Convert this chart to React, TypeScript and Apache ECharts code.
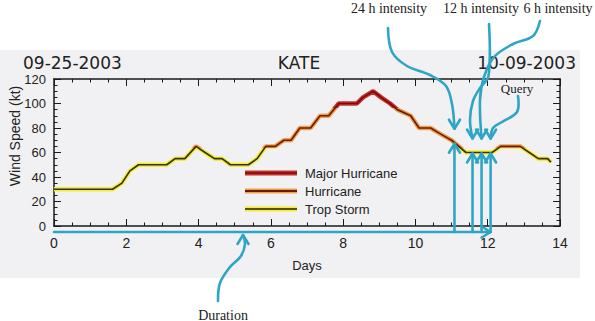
import React, { useEffect, useRef } from "react";
import * as echarts from "echarts";

// ---- data ----
const days = [0, 1.62, 1.88, 2.1, 2.34, 3.12, 3.35, 3.62, 3.93, 4.18, 4.44, 4.65, 4.88, 5.38, 5.62, 5.86, 6.12, 6.36, 6.56, 6.8, 7.1, 7.36, 7.6, 7.88, 8.38, 8.55, 8.83, 9.05, 9.3, 9.5, 9.87, 10.1, 10.42, 10.7, 11.0, 11.4, 12.12, 12.36, 12.9, 13.15, 13.4, 13.66, 13.75];
const wind = [30, 30, 35, 45, 50, 50, 55, 55, 65, 60, 55, 55, 50, 50, 55, 65, 65, 70, 70, 80, 80, 90, 90, 100, 100, 105, 110, 105, 100, 95, 90, 80, 80, 75, 70, 60, 60, 65, 65, 60, 55, 55, 52];

const startDate = "09-25-2003";
const stormName = "KATE";
const endDate = "10-09-2003";
const xAxisName = "Days";
const yAxisName = "Wind Speed (kt)";
const legendNames = ["Major Hurricane", "Hurricane", "Trop Storm"];
const hurricaneThreshold = 64;
const majorThreshold = 96;
const queryDay = 12.08;
const lookbackDays = [1, 0.5, 0.25, 0];
const annotationLabels = ["24 h intensity", "12 h intensity", "6 h intensity", "Query"];
const durationLabel = "Duration";

// ---- styles ----
const halo = { major: "#c4302a", hur: "#eea048", trop: "#f4ec3c" };
const core = { major: "#7e0a0a", hur: "#6a1c0a", trop: "#34320a" };
const arrowColor = "#2fa5c6";
const frameColor = "#1a1a1a";
const sansFont = "'Liberation Sans', 'DejaVu Sans', sans-serif";
const serifFont = "'Liberation Serif', 'DejaVu Serif', serif";

const GRID = { left: 54, right: 35, top: 79, bottom: 95 };

function windAt(d: number): number {
  for (let i = 0; i < days.length - 1; i++) {
    if (d >= days[i] && d <= days[i + 1]) {
      const t = (d - days[i]) / (days[i + 1] - days[i]);
      return wind[i] + t * (wind[i + 1] - wind[i]);
    }
  }
  return wind[wind.length - 1];
}

const axisCommon = {
  splitLine: { show: false },
  minorSplitLine: { show: false },
  axisLine: { show: true, onZero: false, lineStyle: { color: frameColor, width: 1.5 } },
  axisTick: { show: true, inside: true, length: 7, lineStyle: { color: frameColor, width: 1 } },
  minorTick: { show: true, splitNumber: 4, length: 3.5, lineStyle: { color: frameColor, width: 1 } },
};

export default function App() {
  const ref = useRef<HTMLDivElement>(null);
  useEffect(() => {
    if (!ref.current) return;
    const chart = echarts.init(ref.current, null, { renderer: "svg" });
    const pts = days.map((d, i) => [d, wind[i]]);
    const pieces = (c: { major: string; hur: string; trop: string }) => [
      { lt: hurricaneThreshold, color: c.trop },
      { gte: hurricaneThreshold, lt: majorThreshold, color: c.hur },
      { gte: majorThreshold, color: c.major },
    ];
    const option: any = {
      animation: false,
      backgroundColor: "#ffffff",
      grid: { ...GRID, containLabel: false, outerBoundsMode: "none" },
      xAxis: [
        {
          type: "value", min: 0, max: 14, interval: 2, position: "bottom",
          ...axisCommon,
          axisLabel: { color: "#222", fontFamily: sansFont, fontSize: 14, margin: 10 },
          name: xAxisName, nameLocation: "middle", nameGap: 33,
          nameTextStyle: { color: "#222", fontFamily: sansFont, fontSize: 13 },
        },
        {
          type: "value", min: 0, max: 14, interval: 2, position: "top",
          ...axisCommon,
          axisLabel: { show: false },
        },
      ],
      yAxis: [
        {
          type: "value", min: 0, max: 120, interval: 20, position: "left",
          ...axisCommon,
          axisLabel: { color: "#222", fontFamily: sansFont, fontSize: 13, margin: 8 },
        },
        {
          type: "value", min: 0, max: 120, interval: 20, position: "right",
          ...axisCommon,
          axisLabel: { show: false },
        },
      ],
      visualMap: [
        { type: "piecewise", show: false, dimension: 1, seriesIndex: 0, pieces: pieces(halo) },
        { type: "piecewise", show: false, dimension: 1, seriesIndex: 1, pieces: pieces(core) },
      ],
      series: [
        { type: "line", data: pts, symbol: "none", lineStyle: { width: 4.5 }, z: 2, silent: true },
        { type: "line", data: pts, symbol: "none", lineStyle: { width: 1.7 }, z: 3, silent: true },
      ],
    };
    chart.setOption(option);

    const px = (d: number, v: number) => chart.convertToPixel({ gridIndex: 0 }, [d, v]) as number[];
    const bottomY = 321 - GRID.bottom;
    const arrowY = bottomY + 6;
    const g: any[] = [];

    // background panel
    g.push({ type: "rect", z: -100, shape: { x: 0, y: 50, width: 580, height: 228 }, style: { fill: "#f1f1f3" }, silent: true });

    const txt = (text: string, x: number, y: number, font: string, align = "center", extra: any = {}) => ({
      type: "text", x, y, z: 50, ...extra,
      style: { text, font, fill: "#222", align, verticalAlign: "middle", textAlign: align, textVerticalAlign: "middle" },
    });

    // titles
    const titleFont = "17px 'DejaVu Sans', sans-serif";
    g.push(txt(startDate, 23, 63, titleFont, "left"));
    g.push(txt(stormName, 299, 63, titleFont, "center"));
    g.push(txt(endDate, 576, 63, titleFont, "right"));
    // y axis name
    g.push(txt(yAxisName, 15, 136, `14px ${sansFont}`, "center", { rotation: Math.PI / 2 }));

    // legend
    const legendCols = [halo.major, halo.hur, halo.trop];
    const legendCore = ["#941010", core.hur, "#5a560c"];
    const legendY = [173, 191, 209];
    legendNames.forEach((n, i) => {
      g.push({ type: "line", z: 40, shape: { x1: 245, y1: legendY[i], x2: 297, y2: legendY[i] }, style: { stroke: legendCols[i], lineWidth: 5 } });
      g.push({ type: "line", z: 41, shape: { x1: 245, y1: legendY[i], x2: 297, y2: legendY[i] }, style: { stroke: legendCore[i], lineWidth: 2.2 } });
      g.push(txt(n, 305, legendY[i], `13px ${sansFont}`, "left"));
    });

    const arrowStyle = { stroke: arrowColor, lineWidth: 2.6, fill: null, lineCap: "round", lineJoin: "round" };
    const chevron = (tx: number, ty: number, dir: "up" | "down" | "right") => {
      let p: number[][];
      if (dir === "up") p = [[tx - 5.5, ty + 9], [tx, ty], [tx + 5.5, ty + 9]];
      else if (dir === "down") p = [[tx - 5.5, ty - 9], [tx, ty], [tx + 5.5, ty - 9]];
      else p = [[tx - 9, ty - 5.5], [tx, ty], [tx - 9, ty + 5.5]];
      return { type: "polyline", z: 100, shape: { points: p }, style: arrowStyle };
    };

    // duration arrow
    const [x0] = px(0, 0);
    const [xq] = px(queryDay, 0);
    g.push({ type: "line", z: 100, shape: { x1: x0, y1: arrowY, x2: xq, y2: arrowY }, style: arrowStyle });
    g.push(chevron(xq, arrowY, "right"));

    // vertical arrows
    const tips: number[][] = [];
    lookbackDays.forEach((lb) => {
      const d = queryDay - lb;
      const [x, y] = px(d, windAt(d));
      tips.push([x, y]);
      g.push({ type: "line", z: 100, shape: { x1: x, y1: arrowY, x2: x, y2: y + 1 }, style: arrowStyle });
      g.push(chevron(x, y + 1, "up"));
    });

    // curved label arrows
    const labelPos = [[389, 8], [481, 8], [558, 8], [517, 88]];
    const curvePts = [
      [[388, 28], [392, 52], [407, 66], [430, 75], [446, 86], [452, 104]],
      [[489, 24], [488.5, 76], [480, 88], [473, 101], [470, 120]],
      [[540, 21], [533, 36], [513, 44], [494, 57], [484, 77], [480, 100]],
      [[518, 96], [517, 112], [502, 122], [493, 128]],
    ];
    annotationLabels.forEach((lab, i) => {
      g.push(txt(lab, labelPos[i][0], labelPos[i][1], `${i === 3 ? 13 : 14}px ${serifFont}`, "center"));
      const tip = [tips[i][0], tips[i][1] - 14];
      const pts2 = [...curvePts[i], tip];
      g.push({ type: "polyline", z: 100, shape: { points: pts2, smooth: 0.35 }, style: arrowStyle });
      g.push(chevron(tip[0], tip[1], "down"));
    });

    // duration label
    g.push(txt(durationLabel, 223, 315, `14px ${serifFont}`, "center"));
    g.push({ type: "polyline", z: 100, shape: { points: [[218, 301], [220, 283], [230, 267], [241, 256], [245, 244], [243, 235]], smooth: 0.35 }, style: arrowStyle });
    g.push(chevron(243, 235, "up"));

    chart.setOption({ graphic: { elements: g } });
    return () => chart.dispose();
  }, []);
  return <div ref={ref} style={{ position: "fixed", left: 0, top: 0, width: 595, height: 321 }} />;
}
